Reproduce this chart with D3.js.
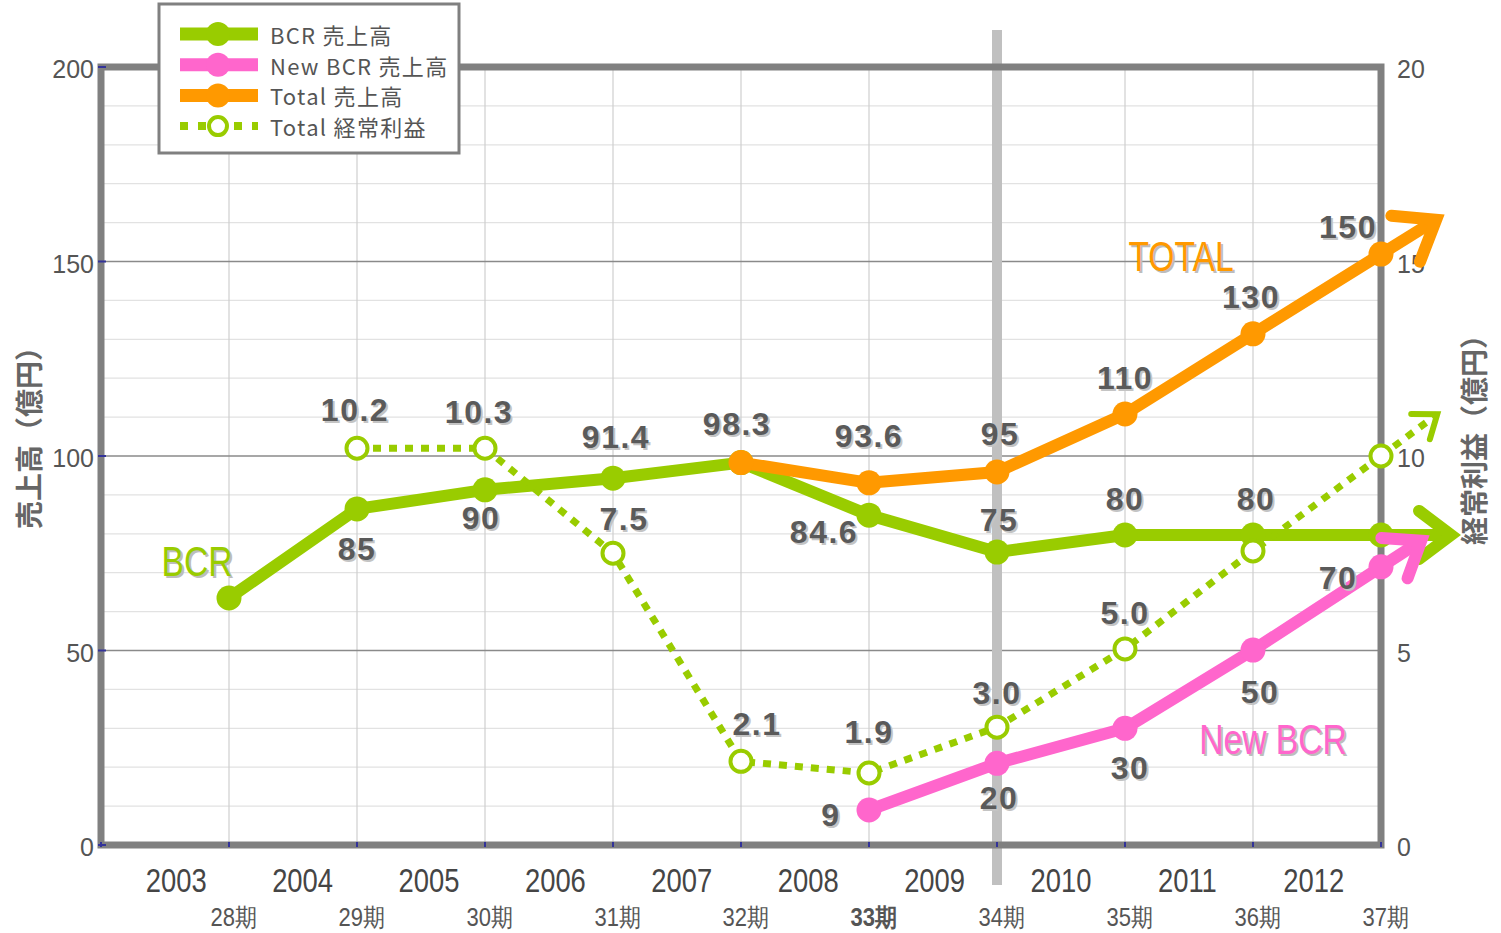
<!DOCTYPE html>
<html>
<head>
<meta charset="utf-8">
<script src="https://cdn.jsdelivr.net/npm/d3@7"></script>
<style>
  body { margin: 0; background: #fff; }
  svg { display: block; }
</style>
</head>
<body>
<script>
// chart data (index 0 = 28期 ... 9 = 37期)
var years = ["2003", "2004", "2005", "2006", "2007", "2008", "2009", "2010", "2011", "2012"];
var periods = ["28期", "29期", "30期", "31期", "32期", "33期", "34期", "35期", "36期", "37期"];
var bcrSales = [63.5, 86.4, 91.3, 94.3, 98.3, 84.8, 75.3, 79.7, 79.7, 79.7];
var newBcrSales = [null, null, null, null, null, 9, 21, 30, 50.1, 71.5];
var totalSales = [null, null, null, null, 98.3, 93.1, 95.9, 110.8, 131.4, 151.9];
var totalProfit = [null, 10.2, 10.2, 7.5, 2.15, 1.85, 3.03, 5.04, 7.56, 10.0];

// value label texts
var bcrLabels = [null, "85", "90", "91.4", null, "84.6", "75", "80", "80", null];
var newBcrLabels = [null, null, null, null, null, "9", "20", "30", "50", "70"];
var totalLabels = [null, null, null, null, "98.3", "93.6", "95", "110", "130", "150"];
var profitLabels = [null, "10.2", "10.3", "7.5", "2.1", "1.9", "3.0", "5.0", null, null];

var leftTicks = [0, 50, 100, 150, 200];
var rightTicks = [0, 5, 10, 15, 20];

// label offsets (px) from their point
var bcrOff = [null, [0, 40], [-4, 28], [3, -41], null, [-45, 17], [2, -32], [0, -36], [3, -36], null];
var newBcrOff = [null, null, null, null, null, [-38, 5], [2, 35], [5, 40], [7, 42], [-43, 11]];
var totalOff = [null, null, null, null, [-4, -39], [0, -47], [3, -38], [0, -36], [-2, -37], [-33, -27]];
var profitOff = [null, [-2, -38], [-6, -36], [11, -34], [16, -37], [0, -41], [0, -34], [0, -36], null, null];

var green = "#99cc00", pink = "#ff66cc", orange = "#ff9900";
var numFont = "'Liberation Sans', Arial, sans-serif";
var jpFont = "'Noto Sans CJK JP', sans-serif";

var width = 1501, height = 933;
var svg = d3.select("body").append("svg")
    .attr("width", width)
    .attr("height", height);

var x = d3.scaleLinear().domain([0, 10]).range([101, 1381]);
var yL = d3.scaleLinear().domain([0, 200]).range([845, 67]);
var yR = d3.scaleLinear().domain([0, 20]).range([845, 67]);
var yearBand = d3.scaleBand().domain(years).range([113, 1377]);
var px = function(i) { return x(i + 1); };

// narrow text = Liberation Sans squeezed horizontally
function narrow(sel, sx) {
    return sel.attr("transform", function(d) {
        return "translate(" + this.getAttribute("x") + "," + this.getAttribute("y") + ") scale(" + sx + ",1)";
    }).attr("x", 0).attr("y", 0);
}

// minor grid every 10
svg.append("g").selectAll("line")
    .data(d3.range(10, 200, 10).filter(function(v) { return v % 50 != 0; }))
    .join("line")
    .attr("x1", x(0)).attr("x2", x(10))
    .attr("y1", d => yL(d)).attr("y2", d => yL(d))
    .attr("stroke", "#e2e2e2").attr("stroke-width", 1.2);

// vertical grid
svg.append("g").selectAll("line")
    .data(d3.range(1, 10))
    .join("line")
    .attr("x1", d => x(d)).attr("x2", d => x(d))
    .attr("y1", yL(200)).attr("y2", yL(0))
    .attr("stroke", "#cfcfcf").attr("stroke-width", 1.2);

// major grid
svg.append("g").selectAll("line")
    .data([50, 100, 150])
    .join("line")
    .attr("x1", x(0)).attr("x2", x(10))
    .attr("y1", d => yL(d)).attr("y2", d => yL(d))
    .attr("stroke", "#8a8a8a").attr("stroke-width", 1.6);

// gray band at 34期
svg.append("rect")
    .attr("x", x(7) - 5).attr("y", 30)
    .attr("width", 10).attr("height", 855)
    .attr("fill", "#c0c0c0");

// frame
svg.append("rect")
    .attr("x", x(0)).attr("y", yL(200))
    .attr("width", x(10) - x(0)).attr("height", yL(0) - yL(200))
    .attr("fill", "none").attr("stroke", "#808080").attr("stroke-width", 7);

// small ticks
svg.append("g").selectAll("line")
    .data(d3.range(0, 11))
    .join("line")
    .attr("x1", d => x(d)).attr("x2", d => x(d))
    .attr("y1", yL(0) - 3).attr("y2", yL(0) + 2)
    .attr("stroke", "#333399").attr("stroke-width", 2);
svg.append("g").selectAll("line")
    .data(leftTicks)
    .join("line")
    .attr("x1", x(0) - 3).attr("x2", x(0) + 5)
    .attr("y1", d => yL(d)).attr("y2", d => yL(d))
    .attr("stroke", "#333399").attr("stroke-width", 2);

// axis tick labels
svg.append("g").selectAll("text")
    .data(leftTicks)
    .join("text")
    .attr("x", 94).attr("y", d => yL(d) + 11)
    .attr("text-anchor", "end")
    .attr("font-family", numFont).attr("font-size", 25)
    .attr("fill", "#555")
    .text(d => d);
svg.append("g").selectAll("text")
    .data(rightTicks)
    .join("text")
    .attr("x", 1397).attr("y", d => yR(d) + 11)
    .attr("font-family", numFont).attr("font-size", 25)
    .attr("fill", "#555")
    .text(d => d);

// years and periods
svg.append("g").selectAll("text")
    .data(years)
    .join("text")
    .attr("x", d => yearBand(d) + yearBand.bandwidth() / 2)
    .attr("y", 892)
    .attr("text-anchor", "middle")
    .attr("font-family", numFont).attr("font-size", 33)
    .attr("fill", "#454545")
    .text(d => d)
    .call(narrow, 0.83);
svg.append("g").selectAll("text")
    .data(periods)
    .join("text")
    .attr("x", (d, i) => px(i) + 5)
    .attr("y", 926)
    .attr("text-anchor", "middle")
    .attr("font-family", numFont).attr("font-size", 25)
    .attr("font-weight", (d, i) => i == 5 ? "bold" : "normal")
    .attr("fill", "#555")
    .text(d => d)
    .call(narrow, 0.88);

// axis titles
svg.append("text")
    .attr("transform", "translate(28,431) rotate(-90)")
    .attr("text-anchor", "middle").attr("dominant-baseline", "central")
    .attr("font-family", jpFont).attr("font-size", 28).attr("font-weight", "bold")
    .attr("fill", "#666")
    .text("売上高（億円）");
svg.append("text")
    .attr("transform", "translate(1473,433) rotate(-90)")
    .attr("text-anchor", "middle").attr("dominant-baseline", "central")
    .attr("font-family", jpFont).attr("font-size", 28).attr("font-weight", "bold")
    .attr("fill", "#666")
    .text("経常利益（億円）");

// series
function pts(vals, y) {
    var out = [];
    vals.forEach(function(v, i) { if (v != null) out.push([px(i), y(v)]); });
    return out;
}
var line = d3.line();

function arrow(p, color, len, arm, w, dashed) {
    var a = p[p.length - 2], b = p[p.length - 1];
    var dx = b[0] - a[0], dy = b[1] - a[1], n = Math.hypot(dx, dy);
    dx /= n; dy /= n;
    var tip = [b[0] + dx * len, b[1] + dy * len];
    var ang = Math.atan2(-dy, -dx), s = 37 * Math.PI / 180;
    var a1 = [tip[0] + arm * Math.cos(ang + s), tip[1] + arm * Math.sin(ang + s)];
    var a2 = [tip[0] + arm * Math.cos(ang - s), tip[1] + arm * Math.sin(ang - s)];
    svg.append("path")
        .attr("d", line([b, tip]))
        .attr("fill", "none").attr("stroke", color).attr("stroke-width", w)
        .attr("stroke-dasharray", dashed ? "8,8" : null);
    svg.append("path")
        .attr("d", line([a1, tip, a2]))
        .attr("fill", "none").attr("stroke", color)
        .attr("stroke-width", dashed ? 6 : w)
        .attr("stroke-linecap", "round").attr("stroke-linejoin", "miter");
}

function solidSeries(vals, color, len, arm) {
    var p = pts(vals, yL);
    svg.append("path")
        .attr("d", line(p))
        .attr("fill", "none").attr("stroke", color)
        .attr("stroke-width", 12).attr("stroke-linejoin", "round");
    arrow(p, color, len, arm, 12, false);
    svg.append("g").selectAll("circle")
        .data(p).join("circle")
        .attr("cx", d => d[0]).attr("cy", d => d[1]).attr("r", 12.5)
        .attr("fill", color);
}

solidSeries(bcrSales, green, 70, 40);
solidSeries(newBcrSales, pink, 48, 40);
solidSeries(totalSales, orange, 65, 45);

var pp = pts(totalProfit, yR);
svg.append("path")
    .attr("d", line(pp))
    .attr("fill", "none").attr("stroke", green)
    .attr("stroke-width", 7).attr("stroke-dasharray", "8,8");
arrow(pp, green, 70, 26, 7, true);
svg.append("g").selectAll("circle")
    .data(pp).join("circle")
    .attr("cx", d => d[0]).attr("cy", d => d[1]).attr("r", 10.5)
    .attr("fill", "#fff").attr("stroke", green).attr("stroke-width", 4);

// value labels with shadow
function labels(vals, texts, offs, y) {
    var d = [];
    vals.forEach(function(v, i) {
        if (texts[i] != null) d.push({ x: px(i) + offs[i][0], y: y(v) + offs[i][1], t: texts[i] });
    });
    [["#c4c4c4", 2], ["#5a5a5a", 0]].forEach(function(s) {
        svg.append("g").selectAll("text")
            .data(d).join("text")
            .attr("x", e => e.x + s[1]).attr("y", e => e.y + s[1])
            .attr("text-anchor", "middle").attr("dominant-baseline", "central")
            .attr("font-family", numFont).attr("font-size", 32).attr("font-weight", "bold")
            .attr("letter-spacing", 1.5)
            .attr("fill", s[0])
            .text(e => e.t);
    });
}
labels(bcrSales, bcrLabels, bcrOff, yL);
labels(newBcrSales, newBcrLabels, newBcrOff, yL);
labels(totalSales, totalLabels, totalOff, yL);
labels(totalProfit, profitLabels, profitOff, yR);

// series names
var names = [["BCR", green, 197, 562], ["TOTAL", orange, 1181, 257], ["New BCR", pink, 1273, 740]];
names.forEach(function(n) {
    [["#bdbdbd", 2], [n[1], 0]].forEach(function(s) {
        svg.append("text")
            .attr("x", n[2] + s[1]).attr("y", n[3] + s[1])
            .attr("text-anchor", "middle").attr("dominant-baseline", "central")
            .attr("font-family", numFont).attr("font-size", 42)
            .attr("fill", s[0])
            .text(n[0])
            .call(narrow, 0.8);
    });
});

// legend
var legendItems = [["BCR 売上高", green, false], ["New BCR 売上高", pink, false],
                   ["Total 売上高", orange, false], ["Total 経常利益", green, true]];
var lg = svg.append("g");
lg.append("rect")
    .attr("x", 159).attr("y", 4).attr("width", 300).attr("height", 149)
    .attr("fill", "#fff").attr("stroke", "#808080").attr("stroke-width", 3);
legendItems.forEach(function(it, i) {
    var ly = 34 + i * 30.7;
    if (!it[2]) {
        lg.append("line")
            .attr("x1", 180).attr("x2", 258).attr("y1", ly).attr("y2", ly)
            .attr("stroke", it[1]).attr("stroke-width", 13);
        lg.append("circle").attr("cx", 218).attr("cy", ly).attr("r", 12).attr("fill", it[1]);
    } else {
        lg.append("line")
            .attr("x1", 180).attr("x2", 258).attr("y1", ly).attr("y2", ly)
            .attr("stroke", it[1]).attr("stroke-width", 8).attr("stroke-dasharray", "8,10");
        lg.append("circle").attr("cx", 218).attr("cy", ly).attr("r", 9)
            .attr("fill", "#fff").attr("stroke", it[1]).attr("stroke-width", 4);
    }
    lg.append("text")
        .attr("x", 270).attr("y", ly).attr("dominant-baseline", "central")
        .attr("font-family", jpFont).attr("font-size", 22)
        .attr("letter-spacing", 1.3)
        .attr("fill", "#555")
        .text(it[0]);
});
</script>
</body>
</html>
